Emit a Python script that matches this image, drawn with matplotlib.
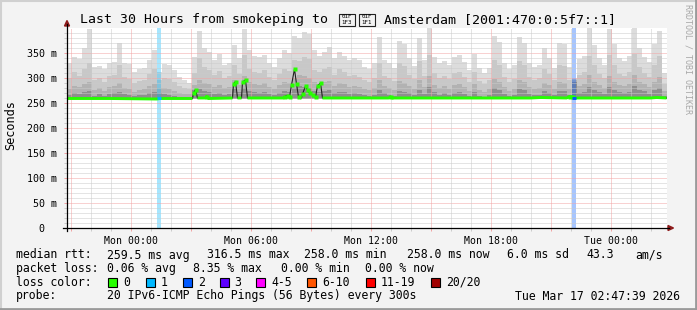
import numpy as np
import matplotlib.pyplot as plt
from matplotlib.patches import Rectangle, Polygon
from matplotlib.lines import Line2D

W, H = 697, 310
MONO = 'DejaVu Sans Mono'

########## DATA ##########

# smoke: 15 minute steps, hours relative to Mon 00:00
smoke_start = -3.2
smoke_step = 0.25
smoke_max = [330, 342, 338, 360, 398, 322, 325, 318, 330, 332,
             370, 330, 328, 312, 318, 320, 336, 356, 312, 328,
             326, 316, 302, 296, 290, 342, 395, 360, 352, 336,
             348, 326, 330, 366, 340, 398, 356, 345, 342, 346,
             330, 322, 340, 356, 350, 384, 380, 392, 388, 356,
             345, 352, 362, 340, 352, 345, 336, 340, 336, 322,
             318, 330, 382, 336, 330, 320, 375, 368, 340, 325,
             380, 336, 400, 342, 330, 335, 326, 342, 346, 332,
             316, 348, 320, 310, 320, 385, 372, 330, 318, 326,
             382, 370, 330, 322, 326, 360, 340, 320, 370, 368,
             322, 300, 338, 345, 400, 366, 340, 326, 398, 368,
             340, 335, 345, 400, 360, 342, 332, 368, 395, 310]
smoke_p80 = [300, 312, 305, 318, 330, 296, 300, 292, 304, 306,
             326, 302, 298, 290, 294, 296, 308, 318, 296, 300,
             298, 292, 284, 280, 278, 310, 340, 322, 316, 306,
             314, 300, 304, 326, 308, 346, 318, 312, 310, 316,
             302, 296, 308, 318, 314, 336, 334, 342, 338, 316,
             312, 318, 322, 306, 318, 312, 304, 306, 302, 296,
             292, 300, 330, 304, 300, 294, 330, 324, 306, 298,
             334, 304, 346, 310, 300, 304, 298, 310, 312, 302,
             292, 312, 294, 288, 296, 336, 326, 302, 292, 298,
             334, 326, 302, 296, 300, 318, 308, 296, 326, 324,
             296, 298, 306, 312, 344, 326, 308, 300, 346, 326,
             308, 304, 312, 348, 322, 310, 302, 326, 344, 288]
smoke_p65 = [278, 284, 282, 288, 292, 276, 280, 274, 282, 284,
             290, 280, 278, 272, 276, 278, 284, 288, 280, 280,
             278, 274, 270, 268, 268, 286, 296, 290, 288, 282,
             286, 280, 282, 296, 286, 304, 292, 288, 286, 290,
             282, 278, 286, 292, 290, 300, 306, 304, 300, 292,
             288, 292, 294, 284, 290, 288, 282, 284, 282, 278,
             276, 280, 296, 284, 280, 276, 294, 290, 284, 278,
             296, 282, 304, 286, 280, 284, 278, 286, 288, 282,
             274, 288, 276, 272, 278, 298, 292, 282, 274, 278,
             296, 292, 282, 278, 280, 290, 286, 278, 292, 290,
             278, 296, 284, 288, 306, 292, 286, 280, 304, 292,
             286, 284, 288, 306, 292, 288, 282, 292, 302, 274]
smoke_p55 = [266, 270, 268, 272, 274, 264, 268, 264, 268, 270,
             272, 268, 266, 264, 266, 266, 270, 272, 270, 268,
             266, 264, 262, 262, 262, 276, 278, 274, 272, 268,
             270, 266, 268, 278, 272, 280, 274, 272, 270, 272,
             268, 266, 270, 274, 272, 280, 284, 282, 280, 274,
             272, 274, 276, 270, 272, 272, 268, 270, 268, 266,
             264, 266, 276, 270, 266, 264, 274, 272, 270, 266,
             276, 268, 282, 272, 266, 270, 266, 270, 272, 268,
             264, 272, 264, 262, 266, 280, 276, 268, 264, 266,
             278, 276, 268, 266, 266, 274, 270, 266, 274, 274,
             266, 292, 270, 272, 282, 276, 272, 268, 282, 276,
             272, 270, 272, 284, 276, 274, 268, 276, 280, 264]

median_hours = [-3.2, -1.0, 1.3, 1.5, 3.1, 3.15, 3.25, 3.35, 3.75, 3.8,
                3.9, 5.1, 5.15, 5.25, 5.35, 5.55, 5.6, 5.75, 5.85, 7.65,
                7.7, 7.85, 7.95, 8.05, 8.2, 8.3, 8.4, 8.55, 8.6, 8.75,
                8.85, 8.95, 9.1, 9.25, 9.35, 9.5, 9.6, 12.9, 13.0, 13.1,
                20.0, 20.5, 21.8, 21.95, 22.1, 22.2, 26.0, 26.3, 26.8]
median_ms = [259, 259, 258, 259, 259, 270, 277, 260, 260, 263,
             259, 260, 288, 293, 260, 260, 292, 296, 260, 260,
             263, 265, 262, 286, 318, 288, 262, 260, 268, 284,
             276, 270, 266, 262, 284, 290, 260, 260, 262, 260,
             260, 261, 260, 263, 262, 260, 260, 261, 260]

loss_hours = [1.3, 22.05]
loss_colors = ['#00b8ff', '#0059ff']

xtick_hours = [-3, 0, 3, 6, 9, 12, 15, 18, 21, 24]
xtick_labels = ['', 'Mon 00:00', '', 'Mon 06:00', '', 'Mon 12:00', '',
                'Mon 18:00', '', 'Tue 00:00']
ytick_ms = [0, 50, 100, 150, 200, 250, 300, 350]
ytick_labels = ['0  ', '50 m', '100 m', '150 m', '200 m', '250 m', '300 m', '350 m']

legend_names = ['0', '1', '2', '3', '4-5', '6-10', '11-19', '20/20']
legend_colors = ['#26ff00', '#00b8ff', '#0059ff', '#5e00ff', '#ff00ff',
                 '#ff5500', '#ff0000', '#a10000']

# the flag (U+1F1F3 U+1F1F1) has no glyph in any installed font, rrdtool
# drew it as two hex boxes, so it is drawn as boxes here too
title_left = 'Last 30 Hours from smokeping to'
title_right = 'Amsterdam [2001:470:0:5f7::1]'
flag_hex = [('01F', '1F3'), ('01F', '1F1')]

########## FIGURE ##########

fig = plt.figure(figsize=(W / 100, H / 100), dpi=100, facecolor='#f3f3f3')

def fx(x):
    return x / W

def fy(y):
    return 1 - y / H

MAJ = '#f2a4a4'
MIN = '#cbcbcb'

ax = fig.add_axes([fx(66.5), fy(228), 600 / W, 200 / H])
ax.set_facecolor('white')
ax.set_xlim(-3.2, 26.8)
ax.set_ylim(0, 400)
for s in ax.spines.values():
    s.set_visible(False)

# smoke layers
hours = smoke_start + smoke_step * np.arange(len(smoke_max))
base = 259
layers = [(smoke_max, '#dcdcdc'), (smoke_p80, '#c8c8c8'),
          (smoke_p65, '#b2b2b2'), (smoke_p55, '#8e8e8e')]
for vals, col in layers:
    ax.bar(hours, np.array(vals) - base, bottom=base, width=smoke_step,
           align='edge', color=col, linewidth=0, zorder=1)

# loss bands
for h, c in zip(loss_hours, loss_colors):
    ax.axvspan(h, h + 0.2, color=c, alpha=0.35, linewidth=0, zorder=2)

# grid (dotted, drawn over the smoke)
for y in range(10, 400, 10):
    ax.axhline(y, color=MAJ if y % 50 == 0 else MIN, lw=0.72,
               ls=(0, (1, 1)), zorder=3)
for h in range(-3, 27):
    ax.axvline(h, color=MAJ if h % 3 == 0 else MIN, lw=0.72,
               ls=(0, (1, 1)), zorder=3)

# median line
med = np.array(median_ms, dtype=float)
ax.plot(median_hours, med, color='#202020', lw=0.8, zorder=4)
flat = np.where(med <= 263, med, np.nan)
ax.plot(median_hours, flat, color='#26ff00', lw=2.1, zorder=5,
        solid_capstyle='butt')
spk = med >= 262
ax.plot(np.array(median_hours)[spk], med[spk], ls='none', marker='s',
        ms=2.2, color='#26ff00', mec='none', zorder=6)
for h, c in zip(loss_hours, loss_colors):
    ax.plot([h, h + 0.2], [260, 260], color=c, lw=2.1, zorder=6,
            solid_capstyle='butt')

# ticks and labels
ax.set_xticks(xtick_hours)
ax.set_xticklabels(xtick_labels, fontfamily=MONO, fontsize=7.1)
ax.set_xticks(range(-3, 27), minor=True)
ax.set_yticks(ytick_ms)
ax.set_yticklabels(ytick_labels, fontfamily=MONO, fontsize=7.2)
ax.set_yticks(range(0, 400, 10), minor=True)
ax.tick_params(which='major', length=2.2, width=0.72, color=MAJ,
               direction='out', pad=3.6)
ax.tick_params(which='minor', length=2.2, width=0.72, color=MIN,
               direction='out')
ax.tick_params(axis='y', which='major', pad=4.5)

# axis lines with arrows
fig.add_artist(Line2D([fx(67), fx(67)], [fy(231), fy(24)], color='black', lw=0.9))
fig.add_artist(Line2D([fx(63), fx(669)], [fy(228), fy(228)], color='black', lw=0.9))
fig.add_artist(Polygon([(fx(64.5), fy(26)), (fx(69.5), fy(26)), (fx(67), fy(20.5))],
                       closed=True, color='#8e1b1b', transform=fig.transFigure))
fig.add_artist(Polygon([(fx(668), fy(225.5)), (fx(668), fy(230.5)), (fx(673.5), fy(228))],
                       closed=True, color='#8e1b1b', transform=fig.transFigure))

# title with the two hex boxes
fig.text(fx(80), fy(23.5), title_left, ha='left', va='baseline',
         fontfamily=MONO, fontsize=9.55)
fig.text(fx(384), fy(23.5), title_right, ha='left', va='baseline',
         fontfamily=MONO, fontsize=9.55)
for bx, (top, bot) in zip([338.5, 358.5], flag_hex):
    fig.add_artist(Rectangle((fx(bx), fy(26)), 16.5 / W, 12.5 / H, facecolor='none',
                             edgecolor='#222222', lw=0.8, transform=fig.transFigure))
    fig.text(fx(bx + 8.25), fy(17.0), top, ha='center', va='center',
             fontfamily=MONO, fontsize=4.2)
    fig.text(fx(bx + 8.25), fy(22.6), bot, ha='center', va='center',
             fontfamily=MONO, fontsize=4.2)

fig.text(fx(10.5), fy(125), 'Seconds', rotation=90, ha='center', va='center',
         fontfamily=MONO, fontsize=8.6)
fig.text(fx(688), fy(59), 'RRDTOOL / TOBI OETIKER', rotation=270, ha='center',
         va='center', fontfamily=MONO, fontsize=6, color='#a8a8a8')

# legend rows
FS = 8.3
rows = [
    (258.5, [(16, 'median rtt:'), (107, '259.5 ms avg'), (207, '316.5 ms max'),
             (304, '258.0 ms min'), (407, '258.0 ms now'), (507, '6.0 ms sd'),
             (586, '43.3'), (635, 'am/s')]),
    (272, [(16, 'packet loss:'), (107, '0.06 % avg'), (193, '8.35 % max'),
           (281, '0.00 % min'), (365, '0.00 % now')]),
    (285.5, [(16, 'loss color:')]),
    (299.5, [(16, 'probe:'), (107, '20 IPv6-ICMP Echo Pings (56 Bytes) every 300s')]),
]
for yb, items in rows:
    for x, s in items:
        fig.text(fx(x), fy(yb), s, ha='left', va='baseline', fontfamily=MONO, fontsize=FS)
fig.text(fx(680), fy(299.5), 'Tue Mar 17 02:47:39 2026', ha='right', va='baseline',
         fontfamily=MONO, fontsize=FS)

sq_x = [108, 145.5, 183, 219.5, 256, 307, 366, 431]
for x, name, col in zip(sq_x, legend_names, legend_colors):
    fig.add_artist(Rectangle((fx(x), fy(287)), 9 / W, 9 / H, facecolor=col,
                             edgecolor='black', lw=0.8, transform=fig.transFigure))
    fig.text(fx(x + 15), fy(285.5), name, ha='left', va='baseline',
             fontfamily=MONO, fontsize=FS)

# frame
fig.add_artist(Line2D([0, 1], [fy(1), fy(1)], color='#d0d0d0', lw=1.5))
fig.add_artist(Line2D([fx(1), fx(1)], [0, 1], color='#d0d0d0', lw=1.5))
fig.add_artist(Line2D([0, 1], [fy(309), fy(309)], color='#9a9a9a', lw=2))
fig.add_artist(Line2D([fx(696), fx(696)], [0, 1], color='#9a9a9a', lw=2))

fig.savefig('out.png', dpi=100, facecolor=fig.get_facecolor())
